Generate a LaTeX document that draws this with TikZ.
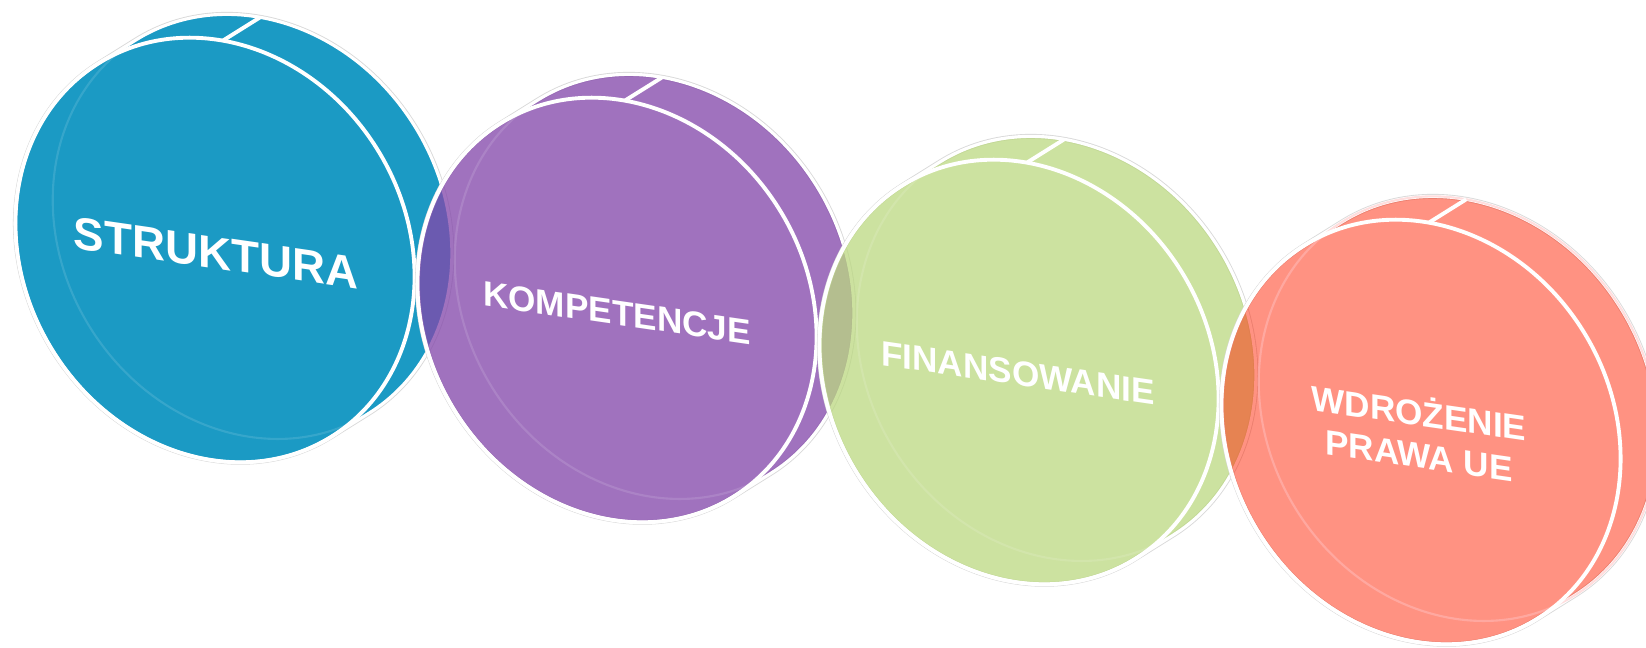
\documentclass[tikz,border=0pt]{standalone}
\usepackage{fontspec}
\setmainfont{Liberation Sans}
\usepackage{tikz}

\definecolor{cblue}{RGB}{27,154,196}
\definecolor{cpurple}{RGB}{132,72,171}
\definecolor{cgreen}{RGB}{187,216,128}
\definecolor{csalmon}{RGB}{255,38,6}

\begin{document}
\begin{tikzpicture}[every node/.style={white, font=\bfseries, yslant=-0.145},
	rim/.style={draw=white, line width=0.9pt, preaction={draw=gray!30, line width=1.4pt}},
	face/.style={draw=white, line width=1.1pt},
	ghost/.style={draw=white, draw opacity=0.12, line width=0.6pt},
	body/.style={insert path={(0,2.2) -- (0.44,2.2) arc[start angle=90, end angle=-90, x radius=1.91, y radius=2.2]
		-- (0,-2.2) arc[start angle=-90, end angle=-270, x radius=1.91, y radius=2.2] -- cycle}}]
	\useasboundingbox (0,0) rectangle (16.46,6.48);

	% coin 1
	\begin{scope}[shift={(2.15,3.98)}, rotate=32]
		\path[body, rim, fill=cblue];
		\draw[ghost] (0.44,0) ellipse[x radius=1.91, y radius=2.2];
		\draw[face] (0,0) ellipse[x radius=1.91, y radius=2.2];
		\draw[face] (52:1.91 and 2.2) -- ++(0.44,0);
	\end{scope}

	% coin 2
	\begin{scope}[shift={(6.17,3.38)}, rotate=32]
		\path[body, rim, fill=cpurple, fill opacity=0.77];
		\draw[ghost] (0.44,0) ellipse[x radius=1.91, y radius=2.2];
		\draw[face] (0,0) ellipse[x radius=1.91, y radius=2.2];
		\draw[face] (52:1.91 and 2.2) -- ++(0.44,0);
	\end{scope}

	% coin 3
	\begin{scope}[shift={(10.19,2.76)}, rotate=32]
		\path[body, rim, fill=cgreen, fill opacity=0.75];
		\draw[ghost] (0.44,0) ellipse[x radius=1.91, y radius=2.2];
		\draw[face] (0,0) ellipse[x radius=1.91, y radius=2.2];
		\draw[face] (52:1.91 and 2.2) -- ++(0.44,0);
	\end{scope}

	% coin 4
	\begin{scope}[shift={(14.21,2.16)}, rotate=32]
		\path[body, rim, fill=csalmon, fill opacity=0.5];
		\draw[ghost, draw=pink, draw opacity=0.5] (0.44,0) ellipse[x radius=1.91, y radius=2.2];
		\draw[face] (0,0) ellipse[x radius=1.91, y radius=2.2];
		\draw[face] (52:1.91 and 2.2) -- ++(0.44,0);
	\end{scope}

	\node (struktura) at (2.16,3.95) {\fontsize{13}{15}\selectfont STRUKTURA};
	\node (kompetencje) at (6.17,3.35) {\fontsize{10}{12}\selectfont KOMPETENCJE};
	\node (finansowanie) at (10.18,2.75) {\fontsize{10}{12}\selectfont FINANSOWANIE};
	\node[align=center] (wdrozenie) at (14.19,2.16) {\fontsize{10}{11.2}\selectfont WDROŻENIE\\PRAWA UE};
\end{tikzpicture}
\end{document}
